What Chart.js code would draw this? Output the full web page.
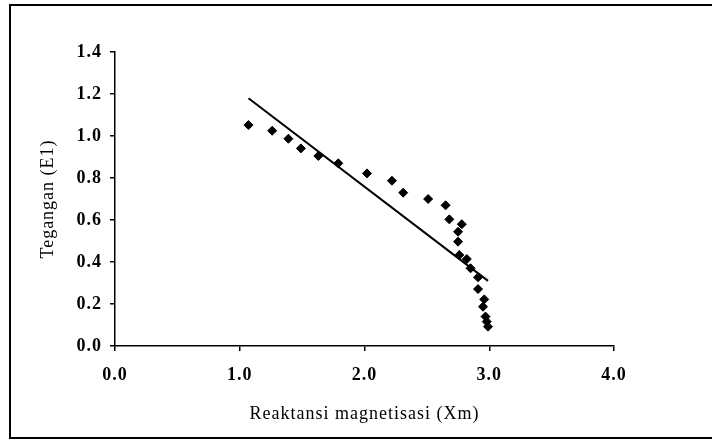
<!DOCTYPE html>
<html>
<head>
<meta charset="utf-8">
<script src="https://cdn.jsdelivr.net/npm/chart.js@4/dist/chart.umd.min.js"></script>
<style>
  html, body { margin: 0; padding: 0; background: #fff; }
  #wrap { width: 712px; height: 443px; position: relative; }
</style>
</head>
<body>
<div id="wrap"><canvas id="c" width="712" height="443"></canvas></div>
<script>
// Measured points: reactance (Xm) and voltage (E1)
const xmValues = [1.07, 1.26, 1.39, 1.49, 1.63, 1.79, 2.02, 2.22, 2.31, 2.51, 2.65, 2.68, 2.78, 2.75, 2.75, 2.76, 2.82, 2.85, 2.91, 2.91, 2.96, 2.95, 2.97, 2.98, 2.99];
const e1Values = [1.052, 1.025, 0.987, 0.941, 0.905, 0.87, 0.822, 0.787, 0.73, 0.70, 0.67, 0.603, 0.58, 0.544, 0.497, 0.433, 0.414, 0.37, 0.327, 0.271, 0.222, 0.187, 0.14, 0.116, 0.092];
// Straight trend line end points
const trendX = [1.07, 2.99];
const trendY = [1.18, 0.31];
// Axis tick labels
const xTickLabels = ['0.0', '1.0', '2.0', '3.0', '4.0'];
const yTickLabels = ['0.0', '0.2', '0.4', '0.6', '0.8', '1.0', '1.2', '1.4'];
const xTitle = 'Reaktansi magnetisasi (Xm)';
const yTitle = 'Tegangan (E1)';

const scatterData = xmValues.map((x, i) => ({ x: x, y: e1Values[i] }));
const trendData = trendX.map((x, i) => ({ x: x, y: trendY[i] }));

const FONT = { family: '"Liberation Serif", "Times New Roman", serif', size: 18, weight: 'bold' };
const TITLE_FONT = { family: '"Liberation Serif", "Times New Roman", serif', size: 18, weight: 'normal' };

const spacingPlugin = {
  id: 'spacing',
  beforeLayout(chart) { chart.ctx.letterSpacing = '1px'; },
  beforeDraw(chart) {
    const ctx = chart.ctx;
    ctx.letterSpacing = '1px';
    ctx.save();
    ctx.fillStyle = '#fff';
    ctx.fillRect(0, 0, chart.width, chart.height);
    ctx.restore();
  },
  afterDraw(chart) {
    const ctx = chart.ctx;
    ctx.save();
    ctx.strokeStyle = '#000';
    ctx.lineWidth = 2;
    ctx.strokeRect(10, 5, 720, 433);
    ctx.restore();
  }
};

new Chart(document.getElementById('c'), {
  type: 'scatter',
  data: {
    datasets: [
      {
        label: 'data',
        data: scatterData,
        pointStyle: 'rectRot',
        pointRadius: 4.5,
        pointBorderWidth: 1,
        backgroundColor: '#000',
        borderColor: '#000',
        showLine: false,
        order: 2
      },
      {
        label: 'trend',
        data: trendData,
        showLine: true,
        borderColor: '#000',
        borderWidth: 2,
        pointRadius: 0,
        fill: false,
        order: 1
      }
    ]
  },
  options: {
    responsive: false,
    animation: false,
    devicePixelRatio: 1,
    layout: { padding: { left: 35, top: 52, right: 98, bottom: 18 } },
    plugins: { legend: { display: false }, tooltip: { enabled: false } },
    scales: {
      x: {
        type: 'linear',
        min: 0, max: 4,
        afterFit(s) { s.height = 79; },
        border: { display: true, color: '#000', width: 1.5 },
        grid: { display: true, drawOnChartArea: false, drawTicks: true, tickLength: 5, color: '#000', lineWidth: 1.5 },
        ticks: {
          stepSize: 1,
          padding: 14,
          color: '#000',
          font: FONT,
          maxRotation: 0,
          callback: (v) => { const i = Math.round(v); return xTickLabels[i] !== undefined ? xTickLabels[i] : ''; }
        },
        title: { display: true, text: xTitle, color: '#000', font: TITLE_FONT, padding: { top: 0, bottom: 0 } }
      },
      y: {
        type: 'linear',
        min: 0, max: 1.4,
        afterFit(s) { s.width = 80; },
        border: { display: true, color: '#000', width: 1.5 },
        grid: { display: true, drawOnChartArea: false, drawTicks: true, tickLength: 5, color: '#000', lineWidth: 1.5 },
        ticks: {
          stepSize: 0.2,
          padding: 8,
          color: '#000',
          font: FONT,
          callback: (v) => { const i = Math.round(v / 0.2); return yTickLabels[i] !== undefined ? yTickLabels[i] : ''; }
        },
        title: { display: true, text: yTitle, color: '#000', font: TITLE_FONT, padding: { top: 2, bottom: 0 } }
      }
    }
  },
  plugins: [spacingPlugin]
});
</script>
</body>
</html>
